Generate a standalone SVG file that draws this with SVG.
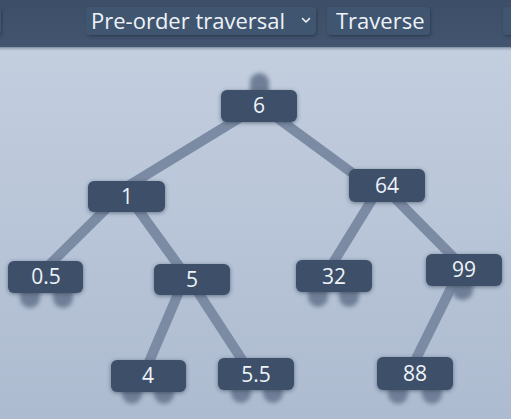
<svg xmlns="http://www.w3.org/2000/svg" width="511" height="419" viewBox="0 0 511 419">
  <defs>
    <linearGradient id="bg" x1="0" y1="0" x2="0" y2="1">
      <stop offset="0" stop-color="#c6d1e1"/>
      <stop offset="1" stop-color="#adbbd0"/>
    </linearGradient>
    <linearGradient id="bar" x1="0" y1="0" x2="0" y2="1">
      <stop offset="0" stop-color="#3d4f68"/>
      <stop offset="1" stop-color="#43556e"/>
    </linearGradient>
    <linearGradient id="barShade" x1="0" y1="0" x2="0" y2="1">
      <stop offset="0" stop-color="#5a6b82"/>
      <stop offset="1" stop-color="#c6d1e1" stop-opacity="0"/>
    </linearGradient>
    <filter id="shadow" x="-30%" y="-50%" width="160%" height="200%">
      <feDropShadow dx="0" dy="1" stdDeviation="2" flood-color="#2c3a4f" flood-opacity="0.6"/>
    </filter>
    <filter id="btnShadow" x="-10%" y="-40%" width="120%" height="180%">
      <feDropShadow dx="1" dy="1.5" stdDeviation="1.5" flood-color="#1f2b3c" flood-opacity="0.6"/>
    </filter>
    <filter id="blur" x="-80%" y="-60%" width="260%" height="220%">
      <feGaussianBlur stdDeviation="2.2"/>
    </filter>
  </defs>
  <style>
    .node rect { fill: #3d4f69; }
    .node text { fill: #eef3f8; font-family: "Open Sans", "Noto Sans", sans-serif; font-size: 21px; text-anchor: middle; }
    .stub { fill: #6f7f97; filter: url(#blur); }
    .edges line { stroke: #7b8ba3; stroke-width: 10; stroke-linecap: butt; }
    .btn { fill: #415470; filter: url(#btnShadow); }
    .btnText { fill: #eef3f8; font-family: "Open Sans", "Noto Sans", sans-serif; font-size: 22px; }
  </style>

  <!-- background -->
  <rect x="0" y="0" width="511" height="419" fill="url(#bg)"/>
  <rect x="0" y="46" width="511" height="6" fill="url(#barShade)"/>
  <rect x="0" y="0" width="511" height="47" fill="url(#bar)"/>

  <!-- toolbar -->
  <g id="toolbar">
    <rect class="btn" x="-20" y="7" width="21" height="28" rx="4"/>
    <g id="select">
      <rect class="btn" x="86" y="7" width="230" height="28" rx="4"/>
      <text class="btnText" x="91" y="29">Pre-order traversal</text>
      <path d="M302.5 18.5 L306 22 L309.5 18.5" fill="none" stroke="#eef3f8" stroke-width="1.6" stroke-linecap="round" stroke-linejoin="round"/>
    </g>
    <g id="traverse">
      <rect class="btn" x="327" y="7" width="103" height="28" rx="4"/>
      <text class="btnText" x="336" y="29">Traverse</text>
    </g>
    <rect class="btn" x="503" y="7" width="30" height="28" rx="4"/>
  </g>

  <!-- connectors -->
  <g id="edges" class="edges">
    <line x1="259" y1="106" x2="110" y2="197"/>
    <line x1="261" y1="106" x2="370" y2="186"/>
    <line x1="118" y1="197" x2="37" y2="277"/>
    <line x1="129" y1="197" x2="189" y2="280"/>
    <line x1="184" y1="280" x2="143" y2="376"/>
    <line x1="190" y1="280" x2="252" y2="375"/>
    <line x1="381" y1="185" x2="325" y2="276"/>
    <line x1="382" y1="185" x2="466" y2="270"/>
    <line x1="460" y1="270" x2="409" y2="373"/>
  </g>

  <!-- stubs (null pointers) -->
  <g id="stubs">
    <rect class="stub" x="250" y="73" width="19" height="30" rx="9.5"/>
    <rect class="stub" x="20" y="280" width="20" height="28" rx="10"/>
    <rect class="stub" x="53" y="280" width="20" height="28" rx="10"/>
    <rect class="stub" x="308" y="279" width="20" height="28" rx="10"/>
    <rect class="stub" x="339" y="279" width="20" height="28" rx="10"/>
    <rect class="stub" x="452" y="272" width="21" height="28" rx="10"/>
    <rect class="stub" x="122" y="376" width="20" height="28" rx="10"/>
    <rect class="stub" x="154" y="376" width="20" height="28" rx="10"/>
    <rect class="stub" x="231" y="375" width="20" height="28" rx="10"/>
    <rect class="stub" x="263" y="375" width="20" height="28" rx="10"/>
    <rect class="stub" x="388" y="375" width="20" height="29" rx="10"/>
    <rect class="stub" x="422" y="375" width="20" height="29" rx="10"/>
  </g>

  <!-- nodes -->
  <g id="node-6" class="node"><rect x="221" y="90" width="76" height="32" rx="6" filter="url(#shadow)"/><text x="259" y="113">6</text></g>
  <g id="node-1" class="node"><rect x="88" y="181" width="77" height="31" rx="6" filter="url(#shadow)"/><text x="127" y="204">1</text></g>
  <g id="node-64" class="node"><rect x="349" y="169" width="76" height="33" rx="6" filter="url(#shadow)"/><text x="387" y="193">64</text></g>
  <g id="node-0.5" class="node"><rect x="8" y="261" width="75" height="32" rx="6" filter="url(#shadow)"/><text x="46" y="284">0.5</text></g>
  <g id="node-5" class="node"><rect x="154" y="264" width="76" height="31" rx="6" filter="url(#shadow)"/><text x="192" y="287">5</text></g>
  <g id="node-32" class="node"><rect x="296" y="260" width="76" height="32" rx="6" filter="url(#shadow)"/><text x="334" y="284">32</text></g>
  <g id="node-99" class="node"><rect x="426" y="254" width="76" height="32" rx="6" filter="url(#shadow)"/><text x="464" y="277">99</text></g>
  <g id="node-4" class="node"><rect x="111" y="360" width="75" height="32" rx="6" filter="url(#shadow)"/><text x="148" y="383">4</text></g>
  <g id="node-5.5" class="node"><rect x="218" y="358" width="76" height="32" rx="6" filter="url(#shadow)"/><text x="256" y="382">5.5</text></g>
  <g id="node-88" class="node"><rect x="377" y="357" width="76" height="33" rx="6" filter="url(#shadow)"/><text x="415" y="381">88</text></g>
</svg>
